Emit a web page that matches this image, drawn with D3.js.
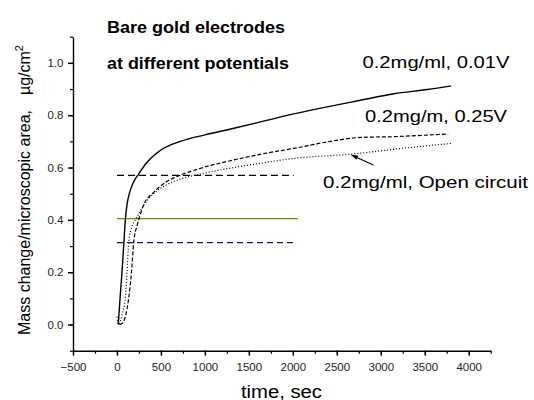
<!DOCTYPE html>
<html>
<head>
<meta charset="utf-8">
<script src="https://d3js.org/d3.v7.min.js"></script>
<style>
  body { margin: 0; background: #fff; }
  svg { display: block; font-family: Arial, "Liberation Sans", sans-serif; }
  .tick text { font-size: 11.5px; fill: #222; }
  .axis path, .axis line { stroke: #000; stroke-width: 1.4px; }
  .minor line { stroke-width: 1.2px; }
</style>
</head>
<body>
<svg id="chart" width="534" height="400"></svg>
<script>
// 0.2mg/ml, 0.01V (solid)
var solidT = [15, 35, 57, 80, 95, 115, 140, 189, 246, 342, 500, 720, 1000, 1330, 1700, 2010, 2390, 2770, 3150, 3530, 3800];
var solidV = [0.0, 0.1, 0.2, 0.32, 0.4, 0.46, 0.5, 0.545, 0.575, 0.62, 0.667, 0.70, 0.725, 0.75, 0.78, 0.805, 0.832, 0.857, 0.882, 0.898, 0.912];
// 0.2mg/m, 0.25V (dashed)
var dashT = [30, 60, 95, 133, 165, 190, 230, 265, 303, 417, 560, 700, 949, 1328, 1700, 2011, 2392, 2771, 3150, 3531, 3766];
var dashV = [0.0, 0.005, 0.03, 0.1, 0.2, 0.313, 0.38, 0.42, 0.457, 0.505, 0.545, 0.568, 0.597, 0.629, 0.655, 0.673, 0.698, 0.715, 0.718, 0.724, 0.728];
// 0.2mg/ml, Open circuit (dotted)
var dotT = [0, 20, 60, 95, 115, 133, 171, 210, 303, 417, 569, 721, 949, 1328, 1632, 2011, 2657, 3150, 3796];
var dotV = [0.03, 0.0, 0.04, 0.1, 0.2, 0.313, 0.375, 0.4, 0.455, 0.5, 0.535, 0.556, 0.575, 0.60, 0.616, 0.635, 0.651, 0.670, 0.692];
// horizontal reference lines: value, start, end
var refV = [0.57, 0.405, 0.313];
var refStart = [0, 0, 0];
var refEnd = [2010, 2055, 2030];
var refColor = ["#000", "#808000", "#1010a0"];
var refDash = ["7,4", null, "6,4"];
// arrow to open-circuit curve: [t, v] from -> to
var arrowFrom = [2916, 0.610];
var arrowTo = [2665, 0.648];

var svg = d3.select("#chart");
var x = d3.scaleLinear().domain([-500, 4250]).range([73, 490.7]);
var y = d3.scaleLinear().domain([-0.1, 1.1]).range([350.7, 36.7]);

svg.append("defs").append("marker")
  .attr("id", "ah").attr("viewBox", "0 0 10 10").attr("refX", 10).attr("refY", 5)
  .attr("markerWidth", 7).attr("markerHeight", 6).attr("orient", "auto")
  .append("path").attr("d", "M0,1.5 L10,5 L0,8.5 z").attr("fill", "#000");

// minor ticks
svg.append("g").attr("class", "axis minor").attr("transform", "translate(0,350.7)")
  .call(d3.axisBottom(x).tickValues(d3.range(-500, 4251, 250)).tickSize(3).tickFormat(""))
  .call(function(g) { g.select(".domain").remove(); });
svg.append("g").attr("class", "axis minor").attr("transform", "translate(73,0)")
  .call(d3.axisLeft(y).tickValues(d3.range(-1, 12).map(function(d) { return d / 10; })).tickSize(3).tickFormat(""))
  .call(function(g) { g.select(".domain").remove(); });

// major axes
svg.append("g").attr("class", "axis").attr("transform", "translate(0,350.7)")
  .call(d3.axisBottom(x).tickValues(d3.range(-500, 4001, 500)).tickSize(5).tickSizeOuter(0).tickPadding(7).tickFormat(d3.format("d")));
svg.append("g").attr("class", "axis").attr("transform", "translate(73,0)")
  .call(d3.axisLeft(y).tickValues([0, 0.2, 0.4, 0.6, 0.8, 1.0]).tickSize(5).tickSizeOuter(0).tickPadding(4.5).tickFormat(d3.format(".1f")));
svg.selectAll(".tick text").attr("font-family", null);

// reference lines
refV.forEach(function(v, i) {
  svg.append("line")
    .attr("x1", x(refStart[i])).attr("x2", x(refEnd[i]))
    .attr("y1", y(v)).attr("y2", y(v))
    .attr("stroke", refColor[i]).attr("stroke-width", 1.3)
    .attr("stroke-dasharray", refDash[i]);
});

var line = d3.line().x(function(d) { return x(d[0]); }).y(function(d) { return y(d[1]); }).curve(d3.curveMonotoneX);
var series = [
  { t: solidT, v: solidV, dash: null, w: 1.4 },
  { t: dashT, v: dashV, dash: "4,2", w: 1.2 },
  { t: dotT, v: dotV, dash: "1,2", w: 1.2 }
];
series.forEach(function(s) {
  svg.append("path")
    .datum(d3.zip(s.t, s.v))
    .attr("d", line)
    .attr("fill", "none").attr("stroke", "#000")
    .attr("stroke-width", s.w).attr("stroke-dasharray", s.dash);
});

svg.append("line")
  .attr("x1", x(arrowFrom[0])).attr("y1", y(arrowFrom[1]))
  .attr("x2", x(arrowTo[0])).attr("y2", y(arrowTo[1]))
  .attr("stroke", "#000").attr("stroke-width", 1.1).attr("marker-end", "url(#ah)");

// titles and labels
function label(txt, px, py, size, len, bold) {
  return svg.append("text").attr("x", px).attr("y", py)
    .attr("font-size", size).attr("font-weight", bold ? "bold" : null)
    .attr("textLength", len).attr("lengthAdjust", "spacingAndGlyphs")
    .text(txt);
}
label("Bare gold electrodes", 107, 32.5, 16, 178, true);
label("at different potentials", 107, 68.5, 16, 182, true);
label("0.2mg/ml, 0.01V", 362.5, 67.5, 17, 147);
label("0.2mg/m, 0.25V", 365, 121.5, 17, 142);
label("0.2mg/ml, Open circuit", 323, 187.5, 17, 205);
label("time, sec", 241, 397.5, 18, 81);

svg.append("text").attr("transform", "translate(30,335) rotate(-90)")
  .attr("font-size", 16).text("Mass change/microscopic area,");
var u = svg.append("text").attr("transform", "translate(30,45) rotate(-90)")
  .attr("font-size", 16).attr("text-anchor", "end");
u.append("tspan").text("µg/cm");
u.append("tspan").attr("font-size", 11).attr("dy", -7).text("2");
</script>
</body>
</html>
